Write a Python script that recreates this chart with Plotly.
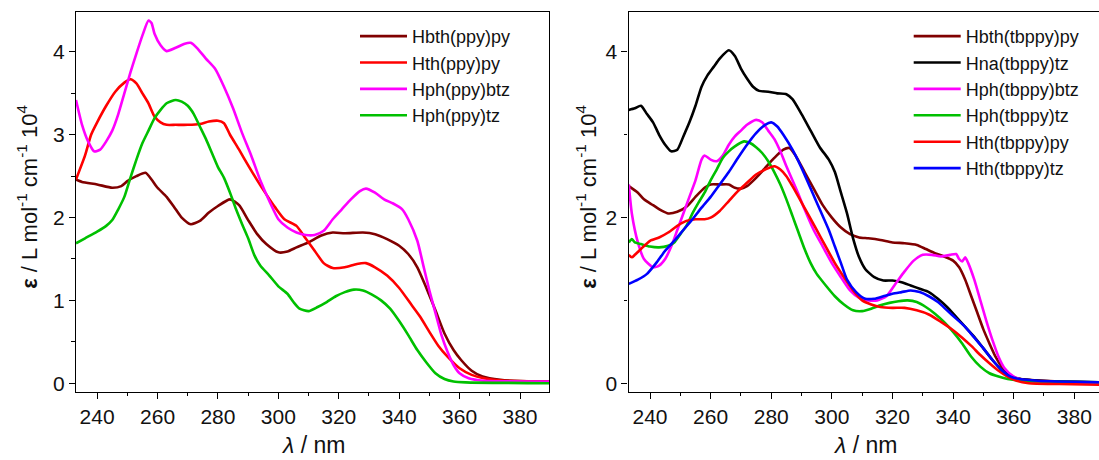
import plotly.graph_objects as go

# ---------------- Left panel data (wavelength nm, epsilon / 1e4) ----------------
L_hbth_x = [233, 235, 240, 245, 248, 250, 253, 256, 258, 260, 263, 266, 268, 271, 274, 277, 280, 284, 287, 290,
            293, 296, 300, 303, 306, 310, 314, 318, 322, 328, 332, 336, 340, 343, 346, 349, 352, 355, 358, 360.5,
            364, 367.6, 373.5, 380, 390]
L_hbth_y = [2.46, 2.43, 2.40, 2.36, 2.38, 2.44, 2.50, 2.54, 2.46, 2.36, 2.25, 2.10, 2.00, 1.92, 1.96, 2.06, 2.14, 2.22, 2.15, 1.97,
            1.80, 1.68, 1.58, 1.59, 1.64, 1.70, 1.78, 1.82, 1.81, 1.82, 1.80, 1.74, 1.66, 1.56, 1.40, 1.15, 0.88, 0.60, 0.40, 0.28,
            0.15, 0.08, 0.04, 0.025, 0.02]

L_hth_x = [233, 236, 238, 240, 243, 246, 249, 251, 253, 255, 257, 259, 261, 263, 266, 270, 274, 277, 280, 282,
           284, 287, 290, 293, 296, 299, 302, 306, 309, 312, 315, 318, 322, 326, 329, 332, 336, 340, 344, 347,
           350, 353, 356, 360, 364, 368, 375, 390]
L_hth_y = [2.46, 2.75, 3.00, 3.15, 3.35, 3.52, 3.63, 3.67, 3.62, 3.50, 3.38, 3.22, 3.15, 3.12, 3.12, 3.12, 3.13, 3.16, 3.17, 3.14,
           3.00, 2.82, 2.63, 2.45, 2.28, 2.12, 1.98, 1.90, 1.75, 1.60, 1.45, 1.39, 1.40, 1.44, 1.45, 1.40, 1.30, 1.15, 0.95, 0.80,
           0.62, 0.45, 0.32, 0.18, 0.10, 0.06, 0.03, 0.02]

L_hphb_x = [233, 235, 237, 239, 241, 243, 245, 247, 249, 251, 253, 255, 257, 258, 259, 261, 263, 266, 269, 271,
            273, 276, 279, 282, 285, 288, 291, 294, 297, 300, 303, 306, 309, 312, 315, 318, 321, 324, 327, 329,
            332, 335, 338, 341, 343, 346, 348, 350, 352, 354, 356, 358, 360, 363, 368, 390]
L_hphb_y = [3.42, 3.12, 2.92, 2.80, 2.82, 2.92, 3.05, 3.25, 3.50, 3.75, 3.98, 4.20, 4.38, 4.35, 4.22, 4.08, 4.01, 4.05, 4.10, 4.11,
            4.05, 3.92, 3.80, 3.58, 3.32, 3.02, 2.75, 2.45, 2.20, 1.98, 1.88, 1.82, 1.79, 1.79, 1.84, 1.98, 2.10, 2.22, 2.32, 2.35,
            2.30, 2.22, 2.17, 2.10, 1.98, 1.72, 1.42, 1.12, 0.85, 0.58, 0.38, 0.22, 0.12, 0.06, 0.03, 0.02]

L_hpht_x = [233, 236, 240, 243, 245, 247, 249, 251, 253, 255, 257, 259, 261, 263, 266, 268, 270, 272, 274, 276,
            278, 280, 282, 284, 286, 288, 290, 292, 294, 297, 300, 303, 305, 307, 310, 313, 316, 319, 322, 325,
            328, 331, 334, 337, 340, 343, 346, 349, 352, 355, 358, 362, 390]
L_hpht_y = [1.69, 1.75, 1.83, 1.90, 1.97, 2.10, 2.25, 2.48, 2.70, 2.90, 3.05, 3.20, 3.30, 3.38, 3.42, 3.40, 3.35, 3.25, 3.10, 2.95,
            2.78, 2.61, 2.48, 2.30, 2.10, 1.92, 1.75, 1.55, 1.42, 1.30, 1.17, 1.08, 0.98, 0.90, 0.87, 0.92, 0.98, 1.05, 1.10, 1.13,
            1.12, 1.07, 1.00, 0.90, 0.75, 0.58, 0.40, 0.25, 0.12, 0.05, 0.02, 0.01, 0.00]

# ---------------- Right panel data ----------------
R_hbth_x = [233, 236, 238, 241, 244, 246, 249, 252, 255, 258, 260, 263, 266, 268, 270, 272, 275, 278, 281, 284,
            286, 288, 291, 294, 297, 300, 303, 306, 309, 312, 316, 320, 324, 328, 331, 334, 337, 340, 342, 344,
            346, 348, 350, 352, 354, 356, 358, 361, 365, 375, 390]
R_hbth_y = [2.38, 2.30, 2.22, 2.15, 2.08, 2.05, 2.07, 2.13, 2.25, 2.36, 2.40, 2.40, 2.40, 2.36, 2.35, 2.38, 2.48, 2.60, 2.72, 2.82,
            2.84, 2.75, 2.55, 2.35, 2.15, 2.00, 1.88, 1.80, 1.76, 1.75, 1.73, 1.70, 1.69, 1.67, 1.62, 1.57, 1.53, 1.48, 1.40, 1.25,
            1.05, 0.85, 0.65, 0.48, 0.32, 0.20, 0.12, 0.06, 0.04, 0.02, 0.01]

R_hna_x = [233, 235, 237, 239, 241, 243, 245, 247, 249, 251, 253, 255, 257, 259, 261, 263, 266, 268, 270, 272,
           274, 276, 279, 282, 285, 287, 290, 293, 296, 299, 301, 303, 305, 307, 309, 311, 314, 317, 320, 323,
           326, 329, 332, 335, 338, 341, 344, 347, 350, 353, 356, 359, 362, 368, 390]
R_hna_y = [3.30, 3.32, 3.35, 3.25, 3.15, 3.00, 2.88, 2.80, 2.82, 2.98, 3.15, 3.35, 3.58, 3.72, 3.82, 3.92, 4.02, 3.95, 3.80, 3.68,
           3.58, 3.53, 3.52, 3.50, 3.49, 3.43, 3.25, 3.05, 2.85, 2.70, 2.55, 2.30, 2.05, 1.75, 1.52, 1.38, 1.28, 1.24, 1.24, 1.22,
           1.18, 1.14, 1.10, 1.02, 0.92, 0.80, 0.68, 0.56, 0.42, 0.28, 0.16, 0.08, 0.05, 0.03, 0.01]

R_hphb_x = [233, 234, 236, 238, 241, 243, 245, 247, 249, 251, 253, 255, 257, 258, 260, 262, 264, 266, 268, 270,
            272, 275, 277, 279, 281, 283, 285, 287, 289, 291, 294, 297, 300, 303, 306, 309, 312, 315, 318, 321,
            324, 327, 330, 333, 336, 339, 341, 342, 343, 344, 345, 347, 349, 351, 353, 355, 357, 360, 364, 370, 390]
R_hphb_y = [2.40, 2.05, 1.70, 1.50, 1.40, 1.42, 1.50, 1.65, 1.85, 2.05, 2.25, 2.45, 2.70, 2.75, 2.70, 2.68, 2.75, 2.88, 2.98, 3.05,
            3.12, 3.18, 3.15, 3.05, 2.95, 2.80, 2.62, 2.45, 2.28, 2.10, 1.85, 1.65, 1.45, 1.28, 1.12, 1.03, 1.00, 1.00, 1.05, 1.20,
            1.35, 1.48, 1.55, 1.55, 1.53, 1.55, 1.56, 1.50, 1.47, 1.52, 1.45, 1.25, 1.00, 0.75, 0.52, 0.32, 0.18, 0.08, 0.03, 0.01, -0.01]

R_hpht_x = [233, 234, 235, 237, 240, 243, 246, 248, 250, 252, 254, 256, 258, 260, 262, 264, 266, 268, 271, 273,
            275, 277, 279, 281, 283, 285, 287, 289, 291, 293, 295, 298, 301, 304, 307, 310, 313, 316, 319, 322,
            325, 328, 331, 334, 337, 340, 343, 346, 349, 352, 355, 358, 362, 370, 390]
R_hpht_y = [1.70, 1.74, 1.70, 1.68, 1.65, 1.64, 1.66, 1.70, 1.80, 1.90, 2.05, 2.18, 2.30, 2.45, 2.58, 2.72, 2.80, 2.86, 2.92, 2.90,
            2.85, 2.78, 2.68, 2.55, 2.40, 2.22, 2.02, 1.82, 1.62, 1.45, 1.32, 1.18, 1.05, 0.95, 0.88, 0.87, 0.90, 0.94, 0.97, 0.99,
            1.00, 0.98, 0.92, 0.84, 0.74, 0.62, 0.48, 0.32, 0.20, 0.12, 0.08, 0.05, 0.03, 0.02, 0.01]

R_hthp_x = [233, 234, 235, 237, 240, 243, 246, 249, 252, 255, 258, 260, 263, 266, 269, 272, 275, 278, 281, 283,
            285, 287, 289, 292, 295, 298, 301, 304, 307, 310, 313, 316, 320, 324, 328, 332, 336, 340, 343, 346,
            349, 352, 355, 358, 361, 365, 375, 390]
R_hthp_y = [1.55, 1.52, 1.55, 1.62, 1.72, 1.76, 1.82, 1.90, 1.96, 1.98, 1.98, 2.00, 2.08, 2.20, 2.32, 2.42, 2.52, 2.58, 2.62, 2.58,
            2.50, 2.38, 2.25, 2.05, 1.85, 1.65, 1.45, 1.28, 1.12, 1.00, 0.95, 0.92, 0.91, 0.91, 0.88, 0.83, 0.74, 0.64, 0.55, 0.45,
            0.34, 0.24, 0.15, 0.08, 0.03, 0.00, -0.01, -0.02]

R_htht_x = [233, 236, 239, 242, 245, 248, 251, 254, 257, 260, 263, 266, 269, 272, 275, 278, 280, 282, 284, 287,
            290, 293, 296, 299, 301, 303, 305, 308, 311, 314, 317, 320, 323, 326, 329, 332, 335, 338, 341, 344,
            347, 350, 353, 356, 359, 362, 368, 390]
R_htht_y = [1.20, 1.25, 1.32, 1.45, 1.60, 1.72, 1.85, 1.98, 2.12, 2.25, 2.40, 2.55, 2.72, 2.88, 3.02, 3.12, 3.15, 3.10, 3.00, 2.82,
            2.60, 2.35, 2.10, 1.85, 1.65, 1.45, 1.25, 1.10, 1.02, 1.02, 1.05, 1.08, 1.10, 1.12, 1.10, 1.05, 0.98, 0.88, 0.78, 0.68,
            0.55, 0.42, 0.28, 0.16, 0.08, 0.05, 0.03, 0.01]

left_series = [
    ("Hbth(ppy)py", L_hbth_x, L_hbth_y, "#800000"),
    ("Hth(ppy)py", L_hth_x, L_hth_y, "#ff0000"),
    ("Hph(ppy)btz", L_hphb_x, L_hphb_y, "#ff00ff"),
    ("Hph(ppy)tz", L_hpht_x, L_hpht_y, "#00c000"),
]
right_series = [
    ("Hbth(tbppy)py", R_hbth_x, R_hbth_y, "#800000"),
    ("Hna(tbppy)tz", R_hna_x, R_hna_y, "#000000"),
    ("Hph(tbppy)btz", R_hphb_x, R_hphb_y, "#ff00ff"),
    ("Hph(tbppy)tz", R_hpht_x, R_hpht_y, "#00c000"),
    ("Hth(tbppy)py", R_hthp_x, R_hthp_y, "#ff0000"),
    ("Hth(tbppy)tz", R_htht_x, R_htht_y, "#0000ff"),
]

W, H = 1099, 460
FONT = "Liberation Sans, Arial, sans-serif"

fig = go.Figure()
for name, xs, ys, col in left_series:
    fig.add_trace(go.Scatter(x=xs, y=ys, name=name, mode="lines",
                             line=dict(color=col, width=2.6, shape="spline", smoothing=0.6),
                             xaxis="x", yaxis="y", legend="legend"))
for name, xs, ys, col in right_series:
    fig.add_trace(go.Scatter(x=xs, y=ys, name=name, mode="lines",
                             line=dict(color=col, width=2.6, shape="spline", smoothing=0.6),
                             xaxis="x2", yaxis="y2", legend="legend2"))

ydom = [1 - 394.3 / H, 1 - 11.7 / H]
TICKFONT = dict(family=FONT, size=21, color="#111")
common_x = dict(showline=True, linecolor="black", linewidth=1.3, ticks="outside", ticklen=6,
                tickwidth=1.2, tickcolor="black", dtick=20, tick0=240, showgrid=False, zeroline=False,
                tickfont=TICKFONT,
                minor=dict(ticks="outside", ticklen=3.5, dtick=10, tick0=240, tickcolor="black", tickwidth=1.2))
common_y = dict(showline=True, linecolor="black", linewidth=1.3, ticks="outside", ticklen=6,
                tickwidth=1.2, tickcolor="black", showgrid=False, zeroline=False,
                range=[-0.103, 4.487], domain=ydom, tickfont=TICKFONT)

LEGFONT = dict(family=FONT, size=18, color="#111")
fig.update_layout(
    width=W, height=H, margin=dict(l=0, r=0, t=0, b=0),
    paper_bgcolor="white", plot_bgcolor="white",
    font=dict(family=FONT, size=19, color="#111"),
    xaxis=dict(common_x, domain=[76 / W, 549.3 / W], range=[233, 389.7], anchor="y", mirror=True),
    yaxis=dict(common_y, anchor="x", dtick=1, tick0=0, mirror=True,
               minor=dict(ticks="outside", ticklen=3.5, dtick=0.5, tick0=0, tickcolor="black", tickwidth=1.2)),
    xaxis2=dict(common_x, domain=[628.5 / W, 1.0], range=[232.9, 388.15], anchor="y2", mirror=True),
    yaxis2=dict(common_y, anchor="x2", dtick=2, tick0=0, mirror=False,
                minor=dict(ticks="outside", ticklen=3.5, dtick=1, tick0=0, tickcolor="black", tickwidth=1.2)),
    legend=dict(x=(363 - 8) / W, y=1 - 18 / H, xanchor="left", yanchor="top",
                bgcolor="rgba(0,0,0,0)", font=LEGFONT, itemwidth=47, tracegroupgap=0),
    legend2=dict(x=(916.7 - 8) / W, y=1 - 18 / H, xanchor="left", yanchor="top",
                 bgcolor="rgba(0,0,0,0)", font=LEGFONT, itemwidth=47, tracegroupgap=0),
    showlegend=True,
)

ytitle = "<b>ε</b> / L mol<sup>-1</sup> cm<sup>-1</sup> 10<sup>4</sup>"
xtitle = "<i>λ</i> / nm"
for xc, yc, txt, ang, sz in [
    ((76 + 549.3) / 2 / W, 1 - 448 / H, xtitle, 0, 23),
    ((628.5 + 1101.8) / 2 / W, 1 - 448 / H, xtitle, 0, 23),
    (27 / W, 1 - 198 / H, ytitle, -90, 22),
    (586 / W, 1 - 198 / H, ytitle, -90, 22),
]:
    fig.add_annotation(x=xc, y=yc, xref="paper", yref="paper", text=txt, textangle=ang,
                       showarrow=False, xanchor="center", yanchor="middle",
                       font=dict(family=FONT, size=sz, color="#111"))

fig.write_html("out.html")
